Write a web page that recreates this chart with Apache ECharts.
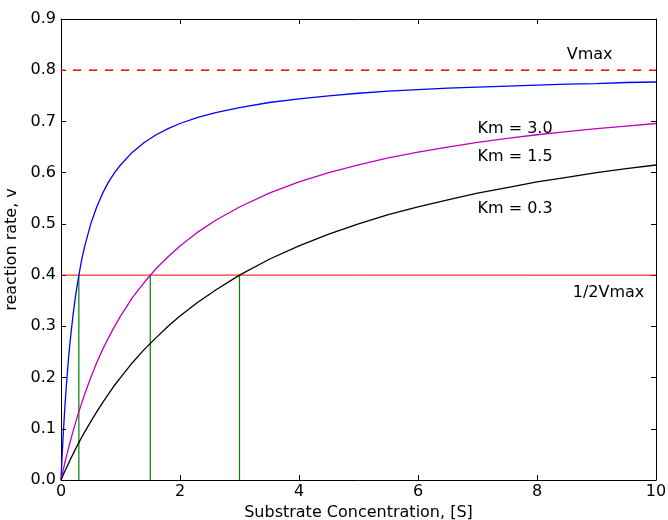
<!DOCTYPE html>
<html><head><meta charset="utf-8">
<script src="https://cdn.jsdelivr.net/npm/echarts@6/dist/echarts.min.js"></script>
<style>html,body{margin:0;padding:0;background:#fff}#c{width:668px;height:520px}</style>
</head><body><div id="c"></div>
<script>
// Substrate concentration sample points [S]
const sValues = [0, 0.02, 0.04, 0.06, 0.08, 0.1, 0.13, 0.16, 0.2, 0.25, 0.3, 0.35, 0.4, 0.5, 0.6, 0.7, 0.8, 0.9, 1.0, 1.2, 1.4, 1.6, 1.8, 2.0, 2.3, 2.6, 3.0, 3.5, 4.0, 4.5, 5, 5.5, 6, 6.5, 7, 7.5, 8, 8.5, 9, 9.5, 10];
// reaction rates
const vBlue    = [0, 0.050, 0.094, 0.133, 0.168, 0.200, 0.242, 0.278, 0.320, 0.364, 0.400, 0.431, 0.457, 0.500, 0.533, 0.560, 0.582, 0.600, 0.615, 0.640, 0.659, 0.674, 0.686, 0.696, 0.708, 0.717, 0.727, 0.737, 0.744, 0.750, 0.755, 0.759, 0.762, 0.765, 0.767, 0.769, 0.771, 0.773, 0.774, 0.776, 0.777];
const vMagenta = [0, 0.011, 0.021, 0.031, 0.041, 0.050, 0.064, 0.077, 0.094, 0.114, 0.133, 0.151, 0.168, 0.200, 0.229, 0.255, 0.278, 0.300, 0.320, 0.356, 0.386, 0.413, 0.436, 0.457, 0.484, 0.507, 0.533, 0.560, 0.582, 0.600, 0.615, 0.629, 0.640, 0.650, 0.659, 0.667, 0.674, 0.680, 0.686, 0.691, 0.696];
const vBlack   = [0, 0.005, 0.011, 0.016, 0.021, 0.026, 0.033, 0.041, 0.050, 0.062, 0.073, 0.084, 0.094, 0.114, 0.133, 0.151, 0.168, 0.185, 0.200, 0.229, 0.255, 0.278, 0.300, 0.320, 0.347, 0.371, 0.400, 0.431, 0.457, 0.480, 0.500, 0.518, 0.533, 0.547, 0.560, 0.571, 0.582, 0.591, 0.600, 0.608, 0.615];
const vmax = 0.8;
const halfVmax = 0.4;
const kmMarks = [0.3, 1.5, 3.0];
const xTicks = [0, 2, 4, 6, 8, 10];
const yTicks = [0, 0.1, 0.2, 0.3, 0.4, 0.5, 0.6, 0.7, 0.8, 0.9];
const labels = [
  {text: 'Vmax', x: 8.5, y: 0.830},
  {text: 'Km = 3.0', x: 7.0, y: 0.686},
  {text: 'Km = 1.5', x: 7.0, y: 0.631},
  {text: 'Km = 0.3', x: 7.0, y: 0.529},
  {text: '1/2Vmax', x: 8.6, y: 0.365}
];

const zip = (xs, ys) => xs.map((x, i) => [x, ys[i]]);
const font = 'DejaVu Sans';
const chart = echarts.init(document.getElementById('c'), null, {renderer: 'canvas'});

const axisCommon = {
  axisLine: {show: true, onZero: false, lineStyle: {color: '#000', width: 1}},
  axisTick: {show: true, inside: true, length: 5, lineStyle: {color: '#000', width: 1}},
  splitLine: {show: false}
};

const series = [
  {type: 'line', data: zip(sValues, vBlue), showSymbol: false, smooth: false, lineStyle: {color: '#0000ff', width: 1.3}, z: 3},
  {type: 'line', data: zip(sValues, vMagenta), showSymbol: false, smooth: false, lineStyle: {color: '#bf00bf', width: 1.3}, z: 3},
  {type: 'line', data: zip(sValues, vBlack), showSymbol: false, smooth: false, lineStyle: {color: '#000000', width: 1.3}, z: 3},
  {type: 'line', data: [[xTicks[0], vmax], [xTicks[xTicks.length - 1], vmax]], showSymbol: false, lineStyle: {color: '#ff0000', width: 1.5, type: [8, 8], dashOffset: 4}, z: 2},
  {type: 'line', data: [[xTicks[0], halfVmax], [xTicks[xTicks.length - 1], halfVmax]], showSymbol: false, lineStyle: {color: '#ff0000', width: 1}, z: 2}
];
kmMarks.forEach(k => {
  series.push({type: 'line', data: [[k, 0], [k, halfVmax]], showSymbol: false, lineStyle: {color: '#008000', width: 1.2}, z: 2});
});

chart.setOption({
  animation: false,
  backgroundColor: '#fff',
  grid: {left: 61, right: 12, top: 19, bottom: 40, containLabel: false, outerBoundsMode: 'none'},
  xAxis: [
    Object.assign({type: 'value', min: 0, max: 10, interval: 2, position: 'bottom',
      name: 'Substrate Concentration, [S]', nameLocation: 'middle', nameGap: 22,
      nameTextStyle: {fontFamily: font, fontSize: 16, color: '#000'},
      axisLabel: {fontFamily: font, fontSize: 16, color: '#000', margin: 4}}, axisCommon),
    Object.assign({type: 'value', min: 0, max: 10, interval: 2, position: 'top', axisLabel: {show: false}}, axisCommon)
  ],
  yAxis: [
    Object.assign({type: 'value', min: 0, max: 0.9, interval: 0.1, position: 'left',
      name: 'reaction rate, v', nameLocation: 'middle', nameGap: 35, nameRotate: 90,
      nameTextStyle: {fontFamily: font, fontSize: 16, color: '#000'},
      axisLabel: {fontFamily: font, fontSize: 16, color: '#000', margin: 5, formatter: v => v.toFixed(1)}}, axisCommon),
    Object.assign({type: 'value', min: 0, max: 0.9, interval: 0.1, position: 'right', axisLabel: {show: false}}, axisCommon)
  ],
  series: series
});

// annotation texts placed through the chart's own coordinate conversion
chart.setOption({
  graphic: labels.map(l => {
    const p = chart.convertToPixel({gridIndex: 0}, [l.x, l.y]);
    return {type: 'text', x: p[0], y: p[1], silent: true,
      style: {text: l.text, fill: '#000', font: '16px "DejaVu Sans"', textAlign: 'left', textVerticalAlign: 'middle', verticalAlign: 'middle'}};
  })
});
</script></body></html>
